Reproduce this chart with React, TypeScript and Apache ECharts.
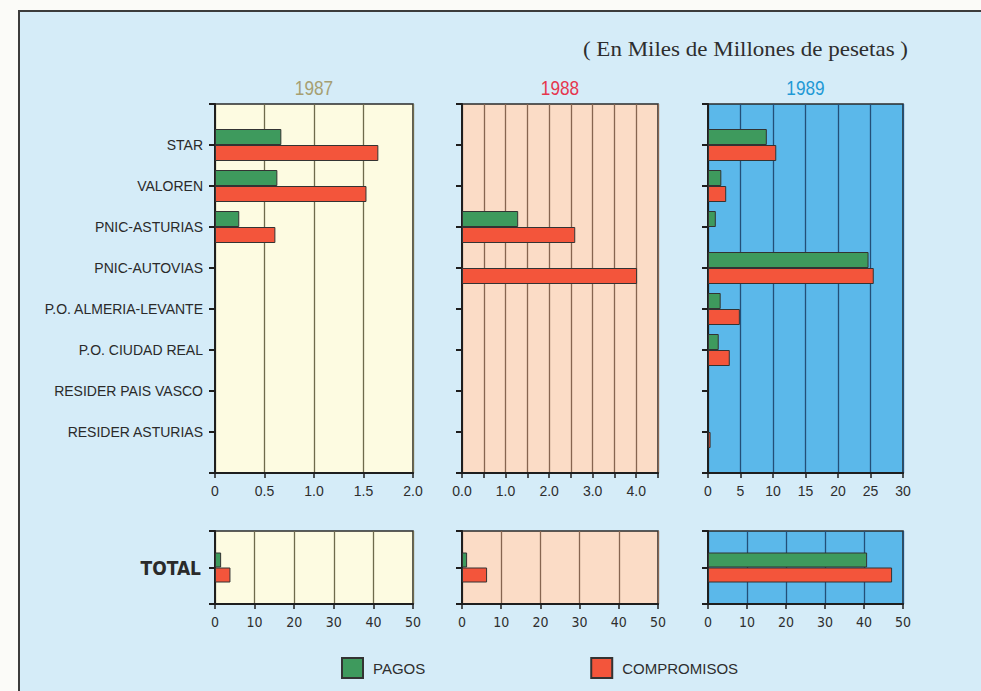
import React, { useEffect, useRef } from "react";
import * as echarts from "echarts";

const categories = [
  "STAR",
  "VALOREN",
  "PNIC-ASTURIAS",
  "PNIC-AUTOVIAS",
  "P.O. ALMERIA-LEVANTE",
  "P.O. CIUDAD REAL",
  "RESIDER PAIS VASCO",
  "RESIDER ASTURIAS",
];
const years = ["1987", "1988", "1989"];

const pagos1987 = [0.67, 0.63, 0.245, null, null, null, null, null];
const compromisos1987 = [1.65, 1.53, 0.61, null, null, null, null, null];
const pagos1988 = [null, null, 1.29, null, null, null, null, null];
const compromisos1988 = [null, null, 2.6, 4.02, null, null, null, null];
const pagos1989 = [9.05, 2.05, 1.2, 24.7, 1.95, 1.65, null, null];
const compromisos1989 = [10.5, 2.8, null, 25.5, 4.9, 3.35, null, 0.4];

const totalPagos = [1.55, 1.3, 40.8];
const totalCompromisos = [3.9, 6.4, 47.2];

const axisMax = [2, 4.5, 30];
const axisInterval = [0.5, 0.5, 5];
const totalMax = 50;
const totalInterval = 10;

const GREEN = "#3e9a5d";
const RED = "#f3553b";
const panelBg = ["#fdfbe1", "#fbdcc6", "#5bb8ea"];
const splitColor = ["#6e6a4c", "#866550", "#234f78"];
const yearColor = ["#a69f72", "#e6364e", "#1f99d5"];
const lefts = [215, 462, 708];
const widths = [198, 196, 195];

const SANS = "'Liberation Sans', Arial, Helvetica, sans-serif";
const NARROW = "'Liberation Sans Narrow', 'DejaVu Sans Condensed', 'Liberation Sans', sans-serif";
const SERIF = "'Liberation Serif', 'Times New Roman', serif";

const toData = (arr: (number | null)[]) => ["-", ...arr.map((v) => (v == null ? "-" : v)), "-"];

export default function App() {
  const ref = useRef<HTMLDivElement>(null);

  useEffect(() => {
    if (!ref.current) return;
    const chart = echarts.init(ref.current, undefined, { renderer: "svg" });

    const grids: any[] = [];
    const xAxes: any[] = [];
    const yAxes: any[] = [];
    const series: any[] = [];
    const pagosTop = [pagos1987, pagos1988, pagos1989];
    const compTop = [compromisos1987, compromisos1988, compromisos1989];

    for (let i = 0; i < 3; i++) {
      grids.push({
        left: lefts[i],
        top: 104,
        width: widths[i],
        height: 369,
        show: true,
        backgroundColor: panelBg[i],
        borderColor: "#2a2a2a",
        borderWidth: 1.5,
      });
      grids.push({
        left: lefts[i],
        top: 531,
        width: widths[i],
        height: 73,
        show: true,
        backgroundColor: panelBg[i],
        borderColor: "#2a2a2a",
        borderWidth: 1.5,
      });
    }

    for (let i = 0; i < 3; i++) {
      const gTop = i * 2;
      const gBot = i * 2 + 1;
      const common = {
        type: "value",
        min: 0,
        axisLine: { show: true, lineStyle: { color: "#1e1e1e", width: 2 } },
        axisTick: { show: true, length: 5, lineStyle: { color: "#1e1e1e", width: 1.5 } },
        splitLine: { show: true, lineStyle: { color: splitColor[i], width: 1.3 } },
      };
      xAxes.push({
        ...common,
        gridIndex: gTop,
        max: axisMax[i],
        interval: axisInterval[i],
        axisLabel: {
          margin: 11,
          fontSize: 14,
          color: "#2e2e2e",
          fontFamily: SANS,
          formatter: (v: number) => {
            if (i === 0) return v === 0 ? "0" : v.toFixed(1);
            if (i === 1) return Number.isInteger(v) && v < 4.5 ? v.toFixed(1) : "";
            return String(v);
          },
        },
      });
      xAxes.push({
        ...common,
        gridIndex: gBot,
        max: totalMax,
        interval: totalInterval,
        axisLabel: { margin: 11, fontSize: 14, color: "#2e2e2e", fontFamily: NARROW },
      });

      const yCommon = {
        type: "category",
        inverse: true,
        boundaryGap: false,
        axisLine: { show: true, lineStyle: { color: "#1e1e1e", width: 2 } },
        axisTick: { show: true, length: 6, lineStyle: { color: "#1e1e1e", width: 2 } },
        splitLine: { show: false },
      };
      yAxes.push({
        ...yCommon,
        gridIndex: gTop,
        data: ["", ...categories, ""],
        axisLabel: {
          show: i === 0,
          interval: 0,
          margin: 12,
          fontSize: 14,
          color: "#2a2a2a",
          fontFamily: SANS,
        },
      });
      yAxes.push({
        ...yCommon,
        gridIndex: gBot,
        data: ["", "TOTAL", ""],
        axisLabel: {
          show: i === 0,
          interval: 0,
          margin: 14,
          fontSize: 19,
          fontWeight: "bold",
          color: "#2a2a2a",
          fontFamily: NARROW,
        },
      });

      const itemStyle = (c: string) => ({ color: c, borderColor: "#333", borderWidth: 1 });
      series.push({
        type: "bar",
        name: "PAGOS",
        xAxisIndex: gTop,
        yAxisIndex: gTop,
        data: toData(pagosTop[i]),
        barWidth: 16,
        barGap: "0%",
        itemStyle: itemStyle(GREEN),
      });
      series.push({
        type: "bar",
        name: "COMPROMISOS",
        xAxisIndex: gTop,
        yAxisIndex: gTop,
        data: toData(compTop[i]),
        barWidth: 16,
        barGap: "0%",
        itemStyle: itemStyle(RED),
      });
      series.push({
        type: "bar",
        name: "PAGOS",
        xAxisIndex: gBot,
        yAxisIndex: gBot,
        data: ["-", totalPagos[i], "-"],
        barWidth: 15,
        barGap: "0%",
        itemStyle: itemStyle(GREEN),
      });
      series.push({
        type: "bar",
        name: "COMPROMISOS",
        xAxisIndex: gBot,
        yAxisIndex: gBot,
        data: ["-", totalCompromisos[i], "-"],
        barWidth: 15,
        barGap: "0%",
        itemStyle: itemStyle(RED),
      });
    }

    const graphic: any[] = [
      {
        type: "rect",
        z: -10,
        shape: { x: 19, y: 11, width: 1000, height: 720 },
        style: { fill: "#d5ecf8", stroke: "#3c3c3c", lineWidth: 2 },
      },
      {
        type: "text",
        x: 908,
        y: 50,
        scaleX: 1.15,
        style: {
          text: "( En Miles de Millones de pesetas )",
          font: `20px ${SERIF}`,
          fill: "#2e2e2e",
          textAlign: "right",
          textVerticalAlign: "middle",
        },
      },
      ...years.map((y, i) => ({
        type: "text",
        x: lefts[i] + widths[i] / 2,
        y: 88,
        scaleX: 0.82,
        style: {
          text: y,
          font: `21px ${SANS}`,
          fill: yearColor[i],
          textAlign: "center",
          textVerticalAlign: "middle",
        },
      })),
    ];

    chart.setOption({
      animation: false,
      backgroundColor: "transparent",
      grid: grids,
      xAxis: xAxes,
      yAxis: yAxes,
      series,
      graphic,
      legend: {
        data: ["PAGOS", "COMPROMISOS"],
        left: 341,
        top: 657,
        padding: 0,
        icon: "rect",
        itemWidth: 21,
        itemHeight: 20,
        itemGap: 165,
        selectedMode: false,
        textStyle: { fontSize: 15, color: "#2e2e2e", fontFamily: SANS, padding: [0, 0, 0, 5] },
      },
    });

    return () => chart.dispose();
  }, []);

  return (
    <div
      ref={ref}
      style={{ position: "absolute", left: 0, top: 0, width: 981, height: 691, background: "#fbfbf8" }}
    />
  );
}
